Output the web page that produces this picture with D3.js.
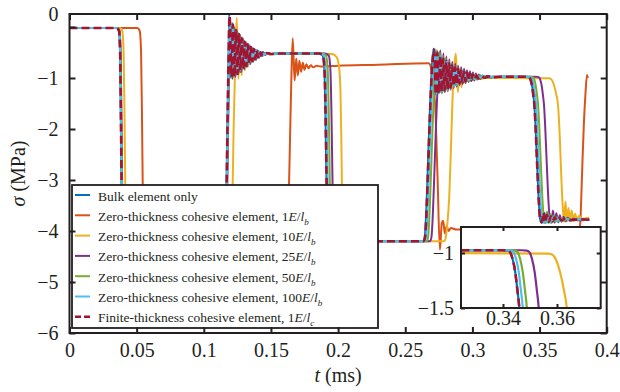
<!DOCTYPE html>
<html><head><meta charset="utf-8">
<script src="https://cdn.jsdelivr.net/npm/d3@7"></script>
<style>
body{margin:0;background:#fff}
svg{display:block}
text{font-family:"Liberation Serif","Times New Roman",serif;fill:#231f20}
</style>
</head><body>
<svg id="chart" width="620" height="392"></svg>
<script>
// ---------- data (t in ms, sigma in MPa) ----------
const bulk = [[0,-0.02],[0.035,-0.02],[0.0368,-0.08],[0.0376,-0.5],[0.0382,-1.8],[0.0388,-3.3],[0.0395,-4.1],[0.041,-4.2],
[0.1148,-4.2],[0.1158,-4.1],[0.1167,-3.4],[0.1175,-2.0],[0.1183,-0.7],[0.119,0.25],
[0.1201,-1.0],[0.1212,0.08],[0.1223,-0.98],[0.1234,-0.03],[0.1245,-0.93],[0.1256,-0.12],[0.1267,-0.88],[0.1278,-0.2],[0.1289,-0.83],[0.13,-0.27],[0.1311,-0.78],[0.1322,-0.33],[0.1333,-0.73],[0.1344,-0.38],[0.1355,-0.68],[0.1366,-0.42],[0.1377,-0.64],[0.1388,-0.45],[0.1399,-0.6],[0.141,-0.48],[0.1421,-0.57],[0.1432,-0.5],[0.1445,-0.55],[0.146,-0.51],[0.149,-0.53],[0.155,-0.52],
[0.186,-0.52],[0.1885,-0.56],[0.1897,-0.8],[0.1905,-1.6],[0.1912,-2.8],[0.192,-3.8],[0.1932,-4.15],[0.195,-4.2],
[0.2635,-4.2],[0.2645,-4.12],[0.2655,-3.7],[0.2665,-3.0],[0.2678,-2.0],[0.269,-1.2],[0.2702,-0.65],[0.2712,-0.42],
[0.2723,-1.33],[0.2734,-0.48],[0.2745,-1.3],[0.2756,-0.55],[0.2767,-1.28],[0.2778,-0.6],[0.2789,-1.26],[0.28,-0.65],[0.2811,-1.23],[0.2822,-0.7],[0.2833,-1.2],[0.2844,-0.74],[0.2855,-1.17],[0.2866,-0.78],[0.2877,-1.14],[0.2888,-0.81],[0.2899,-1.12],[0.291,-0.84],[0.2921,-1.1],[0.2932,-0.86],[0.2943,-1.08],[0.2954,-0.88],[0.2965,-1.06],[0.2976,-0.9],[0.2987,-1.05],[0.2998,-0.92],[0.301,-1.03],[0.3025,-0.94],[0.304,-1.02],[0.306,-0.95],[0.308,-1.0],[0.311,-0.96],[0.315,-0.99],[0.32,-0.975],
[0.34,-0.975],[0.3415,-0.978],[0.3425,-0.99],[0.3435,-1.05],[0.3445,-1.17],[0.3453,-1.33],[0.3461,-1.52],[0.347,-1.95],[0.3482,-2.7],[0.3494,-3.4],[0.3505,-3.78],[0.3516,-3.84],[0.3528,-3.66],[0.354,-3.84],[0.3553,-3.7],[0.3566,-3.83],[0.3579,-3.72],[0.3593,-3.82],[0.3607,-3.74],[0.3622,-3.81],[0.3638,-3.75],[0.3655,-3.8],[0.368,-3.76],[0.372,-3.79],[0.378,-3.77],[0.387,-3.78]];

const zero1 = [[0,-0.02],[0.0505,-0.02],[0.0523,-0.08],[0.0533,-0.5],[0.054,-1.8],[0.0546,-3.3],[0.0553,-4.1],[0.057,-4.2],
[0.161,-4.2],[0.1622,-4.1],[0.1632,-3.4],[0.1642,-2.2],[0.1652,-1.0],[0.1662,-0.22],[0.1676,-1.05],[0.1688,-0.62],[0.17,-0.95],[0.1712,-0.66],[0.1724,-0.88],[0.1737,-0.7],[0.175,-0.84],[0.1764,-0.73],[0.178,-0.81],[0.1797,-0.75],[0.1815,-0.79],[0.184,-0.76],[0.187,-0.775],[0.2,-0.76],[0.23,-0.74],[0.2675,-0.71],
[0.2688,-0.76],[0.27,-0.95],[0.2712,-1.2],[0.2722,-1.5],[0.274,-2.9],[0.2758,-4.37],[0.2772,-3.85],[0.2782,-3.8],[0.2795,-4.05],[0.2808,-3.9],[0.2822,-4.0],[0.284,-3.94],[0.288,-3.97],[0.3,-3.96],
[0.3795,-3.96],[0.3803,-3.85],[0.381,-3.4],[0.382,-2.6],[0.383,-1.9],[0.3842,-1.3],[0.3853,-0.94],[0.386,-1.0]];

const zero10 = [[0,-0.02],[0.0375,-0.02],[0.0393,-0.08],[0.0403,-0.5],[0.041,-1.8],[0.0416,-3.3],[0.0423,-4.1],[0.044,-4.2],
[0.1195,-4.2],[0.1205,-4.1],[0.1213,-3.4],[0.1222,-2.0],[0.1232,-0.9],[0.1245,0.18],[0.1258,-1.02],[0.127,-0.15],[0.1282,-0.95],[0.1294,-0.25],[0.1306,-0.85],[0.1318,-0.32],[0.133,-0.78],[0.1342,-0.38],[0.1355,-0.7],[0.1368,-0.43],[0.1382,-0.64],[0.1396,-0.47],[0.141,-0.6],[0.1425,-0.5],[0.144,-0.56],[0.146,-0.52],[0.15,-0.54],[0.155,-0.53],
[0.195,-0.53],[0.1975,-0.55],[0.1995,-0.62],[0.2008,-0.8],[0.2018,-1.3],[0.2024,-2.2],[0.2029,-3.2],[0.2036,-3.95],[0.205,-4.2],
[0.279,-4.2],[0.28,-4.15],[0.2812,-3.9],[0.2828,-3.3],[0.284,-2.4],[0.2852,-1.4],[0.2864,-0.8],[0.2876,-0.52],[0.2892,-1.28],[0.2906,-0.82],[0.292,-1.18],[0.2934,-0.88],[0.2948,-1.1],[0.2962,-0.93],[0.2977,-1.06],[0.2992,-0.96],[0.3008,-1.04],[0.3025,-0.98],[0.305,-1.02],[0.31,-1.0],
[0.357,-1.005],[0.3585,-1.02],[0.3598,-1.07],[0.3612,-1.18],[0.3625,-1.33],[0.3637,-1.52],[0.3648,-2.0],[0.366,-2.8],[0.3672,-3.5],[0.3682,-3.82],[0.3693,-3.42],[0.3704,-3.82],[0.3715,-3.55],[0.3727,-3.8],[0.3739,-3.6],[0.3752,-3.79],[0.3765,-3.66],[0.3779,-3.78],[0.3794,-3.7],[0.381,-3.76],[0.387,-3.74]];

const zero25 = [[0,-0.02],[0.0355,-0.02],[0.0373,-0.08],[0.0381,-0.5],[0.0387,-1.8],[0.0393,-3.3],[0.04,-4.1],[0.0415,-4.2],
[0.1154,-4.2],[0.1164,-4.1],[0.1173,-3.4],[0.1181,-2.0],[0.1189,-0.7],[0.1197,0.12],
[0.1214,-1.02],[0.1225,0.0],[0.1236,-0.98],[0.1247,-0.07],[0.1258,-0.93],[0.1269,-0.15],[0.128,-0.88],[0.1291,-0.22],[0.1302,-0.83],[0.1313,-0.29],[0.1324,-0.78],[0.1335,-0.34],[0.1346,-0.73],[0.1357,-0.39],[0.1368,-0.68],[0.1379,-0.43],[0.139,-0.64],[0.1401,-0.46],[0.1412,-0.6],[0.1423,-0.49],[0.1434,-0.57],[0.1445,-0.5],[0.1458,-0.55],[0.1473,-0.51],[0.15,-0.53],[0.155,-0.52],
[0.19,-0.52],[0.193,-0.56],[0.1942,-0.8],[0.195,-1.6],[0.1957,-2.8],[0.1965,-3.8],[0.1977,-4.15],[0.1995,-4.2],
[0.2685,-4.2],[0.2695,-4.12],[0.2705,-3.7],[0.2715,-3.0],[0.2728,-2.0],[0.274,-1.2],[0.2752,-0.65],[0.2762,-0.46],
[0.2773,-1.3],[0.2784,-0.52],[0.2795,-1.28],[0.2806,-0.58],[0.2817,-1.26],[0.2828,-0.63],[0.2839,-1.23],[0.285,-0.68],[0.2861,-1.2],[0.2872,-0.72],[0.2883,-1.17],[0.2894,-0.76],[0.2905,-1.14],[0.2916,-0.79],[0.2927,-1.12],[0.2938,-0.82],[0.2949,-1.1],[0.296,-0.85],[0.2971,-1.08],[0.2982,-0.87],[0.2993,-1.06],[0.3004,-0.89],[0.3015,-1.05],[0.3026,-0.91],[0.3037,-1.03],[0.3048,-0.93],[0.306,-1.02],[0.3075,-0.95],[0.309,-1.0],[0.311,-0.96],[0.3135,-0.99],[0.3165,-0.97],[0.32,-0.98],[0.325,-0.975],
[0.347,-0.975],[0.3487,-0.978],[0.3497,-0.99],[0.3507,-1.05],[0.3517,-1.17],[0.3525,-1.33],[0.3533,-1.52],[0.3542,-1.95],[0.3554,-2.7],[0.3566,-3.4],[0.3577,-3.78],[0.3588,-3.84],[0.36,-3.6],[0.3612,-3.84],[0.3625,-3.65],[0.3638,-3.83],[0.3651,-3.69],[0.3665,-3.82],[0.3679,-3.72],[0.3694,-3.81],[0.371,-3.74],[0.3727,-3.8],[0.3752,-3.76],[0.379,-3.79],[0.387,-3.78]];

const zero50 = [[0,-0.02],[0.0353,-0.02],[0.0371,-0.08],[0.0379,-0.5],[0.0385,-1.8],[0.0391,-3.3],[0.0398,-4.1],[0.0413,-4.2],
[0.1152,-4.2],[0.1162,-4.1],[0.1171,-3.4],[0.1179,-2.0],[0.1187,-0.7],[0.1195,0.15],
[0.1209,-1.0],[0.122,0.02],[0.1231,-0.96],[0.1242,-0.06],[0.1253,-0.92],[0.1264,-0.15],[0.1275,-0.87],[0.1286,-0.22],[0.1297,-0.82],[0.1308,-0.29],[0.1319,-0.77],[0.133,-0.34],[0.1341,-0.72],[0.1352,-0.39],[0.1363,-0.67],[0.1374,-0.43],[0.1385,-0.63],[0.1396,-0.46],[0.1407,-0.59],[0.1418,-0.49],[0.1429,-0.56],[0.144,-0.5],[0.1453,-0.54],[0.1468,-0.51],[0.15,-0.53],[0.155,-0.52],
[0.1885,-0.52],[0.191,-0.56],[0.1922,-0.8],[0.193,-1.6],[0.1937,-2.8],[0.1945,-3.8],[0.1957,-4.15],[0.1975,-4.2],
[0.266,-4.2],[0.267,-4.12],[0.268,-3.7],[0.269,-3.0],[0.2703,-2.0],[0.2715,-1.2],[0.2727,-0.65],[0.2737,-0.45],
[0.2748,-1.3],[0.2759,-0.5],[0.277,-1.28],[0.2781,-0.57],[0.2792,-1.26],[0.2803,-0.62],[0.2814,-1.24],[0.2825,-0.67],[0.2836,-1.21],[0.2847,-0.72],[0.2858,-1.18],[0.2869,-0.76],[0.288,-1.15],[0.2891,-0.8],[0.2902,-1.12],[0.2913,-0.83],[0.2924,-1.1],[0.2935,-0.86],[0.2946,-1.08],[0.2957,-0.88],[0.2968,-1.06],[0.2979,-0.9],[0.299,-1.05],[0.3001,-0.92],[0.3012,-1.03],[0.3023,-0.94],[0.3035,-1.02],[0.305,-0.95],[0.3065,-1.0],[0.3085,-0.96],[0.311,-0.99],[0.314,-0.97],[0.318,-0.98],[0.322,-0.975],
[0.3428,-0.975],[0.3443,-0.978],[0.3453,-0.99],[0.3463,-1.05],[0.3473,-1.17],[0.3481,-1.33],[0.3489,-1.52],[0.3498,-1.95],[0.351,-2.7],[0.3522,-3.4],[0.3533,-3.78],[0.3544,-3.84],[0.3556,-3.62],[0.3568,-3.84],[0.3581,-3.67],[0.3594,-3.83],[0.3607,-3.7],[0.3621,-3.82],[0.3635,-3.73],[0.365,-3.81],[0.3666,-3.75],[0.3683,-3.8],[0.3708,-3.76],[0.3748,-3.79],[0.3808,-3.77],[0.387,-3.78]];

const zero100 = [[0,-0.02],[0.0351,-0.02],[0.0369,-0.08],[0.0377,-0.5],[0.0383,-1.8],[0.0389,-3.3],[0.0396,-4.1],[0.0411,-4.2],
[0.115,-4.2],[0.116,-4.1],[0.1169,-3.4],[0.1177,-2.0],[0.1185,-0.7],[0.1193,0.2],
[0.1204,-0.99],[0.1215,0.06],[0.1226,-0.97],[0.1237,-0.04],[0.1248,-0.93],[0.1259,-0.13],[0.127,-0.88],[0.1281,-0.21],[0.1292,-0.83],[0.1303,-0.28],[0.1314,-0.78],[0.1325,-0.33],[0.1336,-0.73],[0.1347,-0.38],[0.1358,-0.68],[0.1369,-0.42],[0.138,-0.64],[0.1391,-0.45],[0.1402,-0.6],[0.1413,-0.48],[0.1424,-0.57],[0.1435,-0.5],[0.1448,-0.55],[0.1463,-0.51],[0.149,-0.53],[0.155,-0.52],
[0.187,-0.52],[0.1894,-0.56],[0.1906,-0.8],[0.1914,-1.6],[0.1921,-2.8],[0.1929,-3.8],[0.1941,-4.15],[0.196,-4.2],
[0.2645,-4.2],[0.2655,-4.12],[0.2665,-3.7],[0.2675,-3.0],[0.2688,-2.0],[0.27,-1.2],[0.2712,-0.65],[0.2722,-0.43],
[0.2733,-1.32],[0.2744,-0.49],[0.2755,-1.3],[0.2766,-0.56],[0.2777,-1.27],[0.2788,-0.61],[0.2799,-1.25],[0.281,-0.66],[0.2821,-1.22],[0.2832,-0.71],[0.2843,-1.19],[0.2854,-0.75],[0.2865,-1.16],[0.2876,-0.79],[0.2887,-1.13],[0.2898,-0.82],[0.2909,-1.11],[0.292,-0.85],[0.2931,-1.09],[0.2942,-0.87],[0.2953,-1.07],[0.2964,-0.89],[0.2975,-1.05],[0.2986,-0.91],[0.2997,-1.04],[0.3008,-0.93],[0.302,-1.02],[0.3035,-0.95],[0.305,-1.01],[0.307,-0.96],[0.309,-0.995],[0.312,-0.97],[0.316,-0.985],[0.32,-0.975],
[0.341,-0.975],[0.3428,-0.978],[0.3438,-0.99],[0.3448,-1.05],[0.3458,-1.17],[0.3466,-1.33],[0.3474,-1.52],[0.3483,-1.95],[0.3495,-2.7],[0.3507,-3.4],[0.3518,-3.78],[0.3529,-3.84],[0.3541,-3.65],[0.3553,-3.84],[0.3566,-3.69],[0.3579,-3.83],[0.3592,-3.71],[0.3606,-3.82],[0.362,-3.73],[0.3635,-3.81],[0.3651,-3.75],[0.3668,-3.8],[0.3693,-3.76],[0.3733,-3.79],[0.3793,-3.77],[0.387,-3.78]];

const finite1 = [[0,-0.02],[0.0351,-0.02],[0.0369,-0.08],[0.0377,-0.5],[0.0383,-1.8],[0.0389,-3.3],[0.0396,-4.1],[0.0411,-4.2],
[0.1149,-4.2],[0.1159,-4.1],[0.1168,-3.4],[0.1176,-2.0],[0.1184,-0.7],[0.1192,0.22],
[0.1206,-0.98],[0.1217,0.05],[0.1228,-0.97],[0.1239,-0.06],[0.125,-0.92],[0.1261,-0.14],[0.1272,-0.87],[0.1283,-0.22],[0.1294,-0.82],[0.1305,-0.29],[0.1316,-0.77],[0.1327,-0.34],[0.1338,-0.72],[0.1349,-0.39],[0.136,-0.67],[0.1371,-0.43],[0.1382,-0.63],[0.1393,-0.46],[0.1404,-0.59],[0.1415,-0.49],[0.1426,-0.56],[0.1438,-0.5],[0.145,-0.54],[0.147,-0.51],[0.15,-0.53],[0.155,-0.52],
[0.186,-0.52],[0.1886,-0.56],[0.1898,-0.8],[0.1906,-1.6],[0.1913,-2.8],[0.1921,-3.8],[0.1933,-4.15],[0.1951,-4.2],
[0.2637,-4.2],[0.2647,-4.12],[0.2657,-3.7],[0.2667,-3.0],[0.268,-2.0],[0.2692,-1.2],[0.2704,-0.65],[0.2715,-0.44],
[0.2728,-1.32],[0.2739,-0.5],[0.275,-1.29],[0.2761,-0.57],[0.2772,-1.27],[0.2783,-0.62],[0.2794,-1.25],[0.2805,-0.67],[0.2816,-1.22],[0.2827,-0.71],[0.2838,-1.19],[0.2849,-0.75],[0.286,-1.16],[0.2871,-0.79],[0.2882,-1.13],[0.2893,-0.82],[0.2904,-1.11],[0.2915,-0.85],[0.2926,-1.09],[0.2937,-0.87],[0.2948,-1.07],[0.2959,-0.89],[0.297,-1.05],[0.2981,-0.91],[0.2992,-1.04],[0.3004,-0.93],[0.3016,-1.02],[0.303,-0.95],[0.3045,-1.01],[0.3065,-0.96],[0.309,-0.995],[0.312,-0.97],[0.316,-0.985],[0.32,-0.975],
[0.34,-0.975],[0.3415,-0.978],[0.3425,-0.99],[0.3435,-1.05],[0.3445,-1.17],[0.3453,-1.33],[0.3461,-1.52],[0.347,-1.95],[0.3482,-2.7],[0.3494,-3.4],[0.3505,-3.78],[0.3517,-3.83],[0.353,-3.64],[0.3543,-3.83],[0.3556,-3.68],[0.357,-3.82],[0.3584,-3.71],[0.3598,-3.81],[0.3613,-3.73],[0.3628,-3.8],[0.3645,-3.75],[0.3665,-3.79],[0.369,-3.76],[0.374,-3.785],[0.38,-3.77],[0.387,-3.78]];

const legendPrefix = ["Bulk element only",
  "Zero-thickness cohesive element, 1",
  "Zero-thickness cohesive element, 10",
  "Zero-thickness cohesive element, 25",
  "Zero-thickness cohesive element, 50",
  "Zero-thickness cohesive element, 100",
  "Finite-thickness cohesive element, 1"];
const legendSub = [null, "b", "b", "b", "b", "b", "c"];
const seriesColors = ["#0072BD","#D95319","#EDB120","#7E2F8E","#77AC30","#4DBEEE","#A2142F"];
const seriesData = [bulk, zero1, zero10, zero25, zero50, zero100, finite1];

const xTicks = [0,0.05,0.1,0.15,0.2,0.25,0.3,0.35,0.4];
const xTickLabels = ["0","0.05","0.1","0.15","0.2","0.25","0.3","0.35","0.4"];
const yTicks = [0,-1,-2,-3,-4,-5,-6];
const yTickLabels = ["0","\u22121","\u22122","\u22123","\u22124","\u22125","\u22126"];
const insetXTicks = [0.34,0.36];
const insetXTickLabels = ["0.34","0.36"];
const insetYTicks = [-1,-1.5];
const insetYTickLabels = ["\u22121","\u22121.5"];

// ---------- drawing ----------
const svg = d3.select("#chart");
const ink = "#231f20";
const P = {l:69.5, r:606.7, t:14, b:333};
const x = d3.scaleLinear().domain([0,0.4]).range([P.l,P.r]);
const y = d3.scaleLinear().domain([-6,0.255]).range([P.b,P.t]);

const defs = svg.append("defs");
defs.append("clipPath").attr("id","clipMain").append("rect")
  .attr("x",P.l).attr("y",P.t).attr("width",P.r-P.l).attr("height",P.b-P.t);

const series = seriesData.map((d,i)=>({data:d,color:seriesColors[i],dashed:i===6}));

const line = d3.line().x(d=>x(d[0])).y(d=>y(d[1])).curve(d3.curveMonotoneX);
const gLines = svg.append("g").attr("clip-path","url(#clipMain)");
series.forEach(s=>{
  gLines.append("path").attr("d",line(s.data)).attr("fill","none")
    .attr("stroke",s.color).attr("stroke-width",s.dashed?2.6:2)
    .attr("stroke-linejoin","round")
    .attr("stroke-dasharray",s.dashed?"8,4":null);
});

// legend
const L = {x:72, y:185, w:306, h:143};
const gLeg = svg.append("g");
gLeg.append("rect").attr("x",L.x).attr("y",L.y).attr("width",L.w).attr("height",L.h)
  .attr("fill","#fff").attr("stroke",ink).attr("stroke-width",1.8);
legendPrefix.forEach((txt,i)=>{
  const yy = 195 + i*20.3;
  gLeg.append("line").attr("x1",75).attr("x2",90).attr("y1",yy).attr("y2",yy)
    .attr("stroke",seriesColors[i]).attr("stroke-width",i===6?2.6:2)
    .attr("stroke-dasharray",i===6?"6,3":null);
  const t = gLeg.append("text").attr("x",98).attr("y",yy+5.5).attr("font-size",13.5);
  t.append("tspan").text(txt);
  if (legendSub[i]) {
    t.append("tspan").attr("font-style","italic").text("E");
    t.append("tspan").text("/");
    t.append("tspan").attr("font-style","italic").text("l");
    t.append("tspan").attr("font-style","italic").attr("font-size",9).attr("dy",4).text(legendSub[i]);
  }
});

// inset
const I = {l:461, r:600.7, t:227, b:308};
const xi = d3.scaleLinear().domain([0.32444,0.37619]).range([I.l,I.r]);
const yi = d3.scaleLinear().domain([-1.5,-0.7636]).range([I.b,I.t]);
defs.append("clipPath").attr("id","clipInset").append("rect")
  .attr("x",I.l).attr("y",I.t).attr("width",I.r-I.l).attr("height",I.b-I.t);
const gIn = svg.append("g");
gIn.append("rect").attr("x",I.l).attr("y",I.t).attr("width",I.r-I.l).attr("height",I.b-I.t).attr("fill","#fff");
const lineI = d3.line().x(d=>xi(d[0])).y(d=>yi(d[1])).curve(d3.curveMonotoneX);
const gInL = gIn.append("g").attr("clip-path","url(#clipInset)");
series.forEach(s=>{
  gInL.append("path").attr("d",lineI(s.data)).attr("fill","none")
    .attr("stroke",s.color).attr("stroke-width",s.dashed?2.6:2.2)
    .attr("stroke-dasharray",s.dashed?"8,4":null);
});
function styleAxis(g){
  g.select(".domain").remove();
  g.selectAll(".tick line").attr("stroke",ink).attr("stroke-width",2);
  g.selectAll(".tick text").attr("font-size",20).attr("fill",ink)
    .attr("font-family","'Liberation Serif','Times New Roman',serif");
}
gIn.append("g").attr("transform",`translate(0,${I.b})`)
  .call(d3.axisBottom(xi).tickValues(insetXTicks).tickFormat((d,i)=>insetXTickLabels[i]).tickSizeInner(-4).tickSizeOuter(0).tickPadding(3))
  .call(styleAxis);
gIn.append("g").attr("transform",`translate(0,${I.t})`)
  .call(d3.axisTop(xi).tickValues(insetXTicks).tickFormat("").tickSizeInner(-4).tickSizeOuter(0))
  .call(styleAxis);
gIn.append("g").attr("transform",`translate(${I.l},0)`)
  .call(d3.axisLeft(yi).tickValues(insetYTicks).tickFormat((d,i)=>insetYTickLabels[i]).tickSizeInner(-4).tickSizeOuter(0).tickPadding(7))
  .call(styleAxis);
gIn.append("g").attr("transform",`translate(${I.r},0)`)
  .call(d3.axisRight(yi).tickValues(insetYTicks).tickFormat("").tickSizeInner(-4).tickSizeOuter(0))
  .call(styleAxis);
gIn.append("rect").attr("x",I.l).attr("y",I.t).attr("width",I.r-I.l).attr("height",I.b-I.t)
  .attr("fill","none").attr("stroke",ink).attr("stroke-width",2);

// main axes
svg.append("g").attr("transform",`translate(0,${P.b})`)
  .call(d3.axisBottom(x).tickValues(xTicks).tickFormat((d,i)=>xTickLabels[i]).tickSizeInner(-6).tickSizeOuter(0).tickPadding(10))
  .call(styleAxis);
svg.append("g").attr("transform",`translate(0,${P.t})`)
  .call(d3.axisTop(x).tickValues(xTicks).tickFormat("").tickSizeInner(-6).tickSizeOuter(0))
  .call(styleAxis);
const gy = svg.append("g").attr("transform",`translate(${P.l},0)`)
  .call(d3.axisLeft(y).tickValues(yTicks).tickFormat((d,i)=>yTickLabels[i]).tickSizeInner(-6).tickSizeOuter(0).tickPadding(11))
  .call(styleAxis);
gy.selectAll(".tick").filter(d=>d===0).select("text").attr("y",-13);
svg.append("g").attr("transform",`translate(${P.r},0)`)
  .call(d3.axisRight(y).tickValues(yTicks).tickFormat("").tickSizeInner(-6).tickSizeOuter(0))
  .call(styleAxis);
svg.append("rect").attr("x",P.l).attr("y",P.t).attr("width",P.r-P.l).attr("height",P.b-P.t)
  .attr("fill","none").attr("stroke",ink).attr("stroke-width",2);

// axis titles
const xt = svg.append("text").attr("x",(P.l+P.r)/2).attr("y",382).attr("text-anchor","middle").attr("font-size",20);
xt.append("tspan").attr("font-style","italic").text("t");
xt.append("tspan").text(" (ms)");
const yt = svg.append("text").attr("transform",`translate(25,${(P.t+P.b)/2}) rotate(-90)`).attr("text-anchor","middle").attr("font-size",20);
yt.append("tspan").attr("font-style","italic").text("\u03c3");
yt.append("tspan").text(" (MPa)");
</script>
</body></html>
